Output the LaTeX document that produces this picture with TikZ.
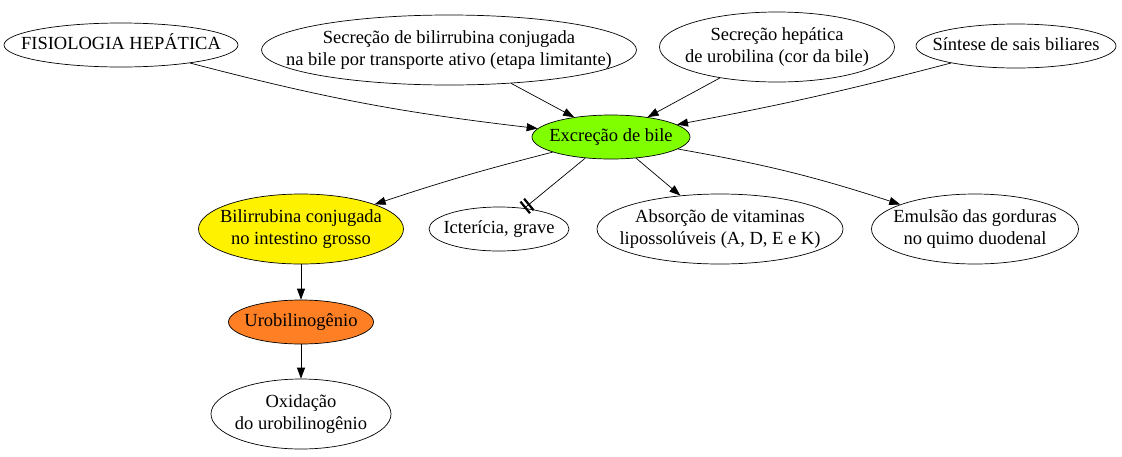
\documentclass[tikz,border=0pt]{standalone}
\usepackage{fontspec}
\setmainfont{Liberation Serif}
\usetikzlibrary{shapes.geometric,arrows.meta}
\newcommand\zw[1]{\makebox[0pt]{\begin{tabular}{@{}c@{}}#1\end{tabular}}}
\begin{document}
\begin{tikzpicture}[x=1pt,y=-1pt,
  every node/.style={font=\fontsize{18.5}{21.5}\selectfont},
  ell/.style={ellipse,draw,inner sep=0pt,line width=0.7pt},
  conn/.style={draw,line width=0.7pt,-{Triangle[length=11pt,width=8pt]}},
  inhib/.style={draw,line width=0.7pt,-{Bar[width=15pt,line width=2.2pt,sep=2.5pt]Bar[width=15pt,line width=2.2pt]}}]
\useasboundingbox (0,0) rectangle (1122,456);
\node[ell,minimum width=234,minimum height=44] (fis) at (121,45) {\zw{FISIOLOGIA HEPÁTICA}};
\node[ell,minimum width=375,minimum height=70] (sbc) at (449,50) {\zw{Secreção de bilirrubina conjugada\\na bile por transporte ativo (etapa limitante)}};
\node[ell,minimum width=235,minimum height=70] (shu) at (777,47) {\zw{Secreção hepática\\de urobilina (cor da bile)}};
\node[ell,minimum width=200,minimum height=44] (ssb) at (1016,46) {\zw{Síntese de sais biliares}};
\node[ell,fill={rgb,255:red,127;green,255;blue,0},minimum width=158,minimum height=44] (exb) at (611,137) {\zw{Excreção de bile}};
\node[ell,fill=yellow,minimum width=205,minimum height=70] (bci) at (301,229) {\zw{Bilirrubina conjugada\\no intestino grosso}};
\node[ell,minimum width=140,minimum height=44] (ict) at (499,229) {\zw{Icterícia, grave}};
\node[ell,minimum width=246,minimum height=70] (abs) at (720,229) {\zw{Absorção de vitaminas\\lipossolúveis (A, D, E e K)}};
\node[ell,minimum width=207,minimum height=70] (emu) at (975,229) {\zw{Emulsão das gorduras\\no quimo duodenal}};
\node[ell,fill={rgb,255:red,255;green,127;blue,36},minimum width=145,minimum height=44] (uro) at (301,322) {\zw{Urobilinogênio}};
\node[ell,minimum width=180,minimum height=70] (oxi) at (301,414) {\zw{Oxidação\\do urobilinogênio}};
\draw[conn] (fis) to[bend right=4] (exb);
\draw[conn] (sbc) -- (exb);
\draw[conn] (shu) -- (exb);
\draw[conn] (ssb) to[bend left=2] (exb);
\draw[conn] (exb) to[bend left=-2] (bci);
\draw[inhib] (exb) -- (ict);
\draw[conn] (exb) -- (abs);
\draw[conn] (exb) to[bend left=4] (emu);
\draw[conn] (bci) -- (uro);
\draw[conn] (uro) -- (oxi);
\end{tikzpicture}
\end{document}
